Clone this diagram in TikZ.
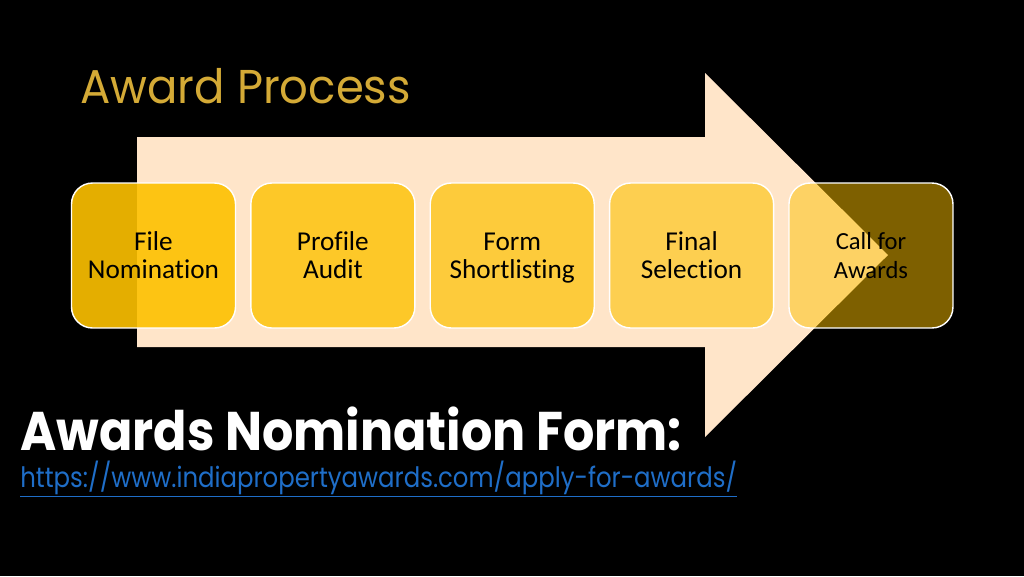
\documentclass[tikz,border=0pt]{standalone}
\usepackage{graphicx}
\usepackage{fontspec}
\setmainfont{Carlito}[Ligatures=NoCommon]
\newfontfamily\gothic{Poppins}
\usetikzlibrary{positioning}

\definecolor{peach}{RGB}{255,229,201}
\definecolor{gold}{RGB}{253,193,0}
\definecolor{titlegold}{RGB}{212,170,54}
\definecolor{linkblue}{RGB}{31,110,200}

\tikzset{
  stepbox/.style={draw=white, line width=0.8pt, fill=gold, rounded corners=0.42cm,
    minimum width=3.28cm, minimum height=2.9cm, align=center, text=black,
    font=\fontsize{15.5}{16}\selectfont},
}

\begin{document}
\begin{tikzpicture}[x=0.02cm,y=-0.02cm]

% Black slide background
\fill[black] (0,0) rectangle (1024,576);

% Title
\node[anchor=base west, inner sep=0, text=titlegold, font=\gothic\fontsize{27}{30}\selectfont]
  (title) at (80,103) {\scalebox{0.948}[1]{Award Process}};

% Big arrow behind the steps
\fill[peach] (137,137) -- (705,137) -- (705,73) -- (888,255) -- (705,437)
  -- (705,347) -- (137,347) -- cycle;

% The five steps
\node[stepbox, fill opacity=0.9, text opacity=1] (nomination) at (153.5,255.5) {File\\Nomination};
\node[stepbox, fill opacity=0.8, text opacity=1, right=0.28cm of nomination] (audit) {Profile\\Audit};
\node[stepbox, fill opacity=0.7, text opacity=1, right=0.28cm of audit] (shortlist) {Form\\\smash{Shortlisting}};
\node[stepbox, fill opacity=0.6, text opacity=1, right=0.28cm of shortlist] (selection) {Final\\Selection};
\node[stepbox, fill opacity=0.5, text opacity=1, right=0.28cm of selection,
  font=\fontsize{14}{16}\selectfont] (callawards) {Call for\\Awards};

% Nomination form and link
\node[anchor=base west, inner sep=0, text=white, font=\gothic\bfseries\fontsize{31}{34}\selectfont]
  (formlabel) at (20,450) {\scalebox{0.904}[1]{Awards Nomination Form:}};
\node[anchor=base west, inner sep=0, text=linkblue, font=\gothic\fontsize{16}{18}\selectfont]
  (formlink) at (20,487) {\scalebox{0.868}[1]{\underline{https://www.indiapropertyawards.com/apply-for-awards/}}};

\end{tikzpicture}
\end{document}
